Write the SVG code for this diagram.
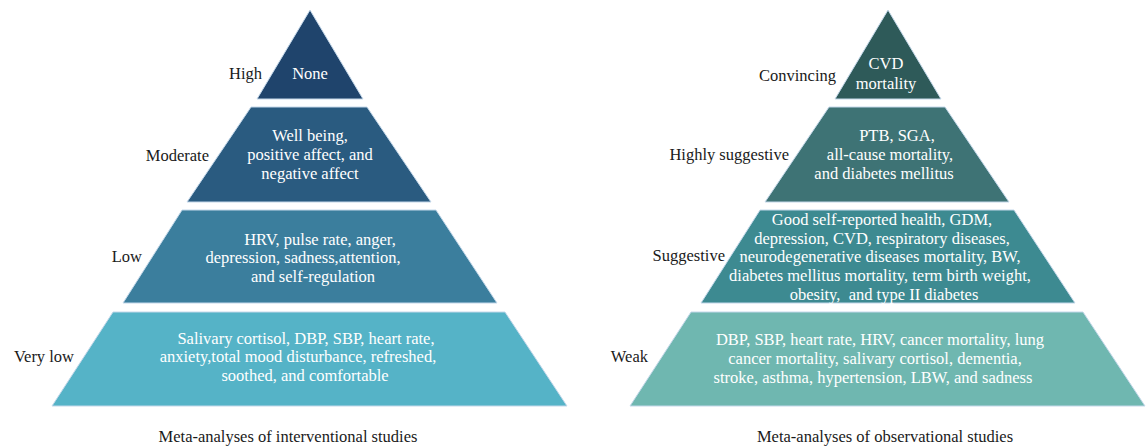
<svg xmlns="http://www.w3.org/2000/svg" width="1146" height="447" viewBox="0 0 1146 447">
  <style>
    .tier { stroke: #c4d8ea; stroke-width: 1; }
    text { font-family: "Liberation Serif", "Times New Roman", serif; font-size: 16.5px; }
    .in { fill: #ffffff; text-anchor: middle; }
    .lbl { fill: #1a1a1a; text-anchor: end; }
    .cap { fill: #1a1a1a; text-anchor: middle; }
  </style>
  <rect width="1146" height="447" fill="#ffffff"/>

  <!-- Interventional studies pyramid -->
  <g id="int-high">
    <polygon class="tier" points="310,10 363,99 257,99" fill="#1f446c"/>
    <text class="lbl" x="262" y="79">High</text>
    <text class="in" x="310" y="79">None</text>
  </g>
  <g id="int-moderate">
    <polygon class="tier" points="251,107 367,107 431,202 187,202" fill="#2a5b80"/>
    <text class="lbl" x="209" y="161">Moderate</text>
    <text class="in" x="310" y="141">Well being,</text>
    <text class="in" x="310" y="160">positive affect, and</text>
    <text class="in" x="310" y="179">negative affect</text>
  </g>
  <g id="int-low">
    <polygon class="tier" points="182,210 436,210 497,303 123,303" fill="#3b7e9d"/>
    <text class="lbl" x="142" y="262">Low</text>
    <text class="in" x="320" y="245">HRV, pulse rate, anger,</text>
    <text class="in" x="303" y="263">depression, sadness,attention,</text>
    <text class="in" x="313" y="282">and self-regulation</text>
  </g>
  <g id="int-verylow">
    <polygon class="tier" points="113,312 505,312 567,406 52,406" fill="#55b3c7"/>
    <text class="lbl" x="74" y="362">Very low</text>
    <text class="in" x="306" y="344">Salivary cortisol, DBP, SBP, heart rate,</text>
    <text class="in" x="298" y="362">anxiety,total mood disturbance, refreshed,</text>
    <text class="in" x="305" y="381">soothed, and comfortable</text>
  </g>
  <text id="int-caption" class="cap" x="288" y="442">Meta-analyses of interventional studies</text>

  <!-- Observational studies pyramid -->
  <g id="obs-convincing">
    <polygon class="tier" points="888,10 941,99 835,99" fill="#2e5a59"/>
    <text class="lbl" x="836" y="81">Convincing</text>
    <text class="in" x="886" y="69">CVD</text>
    <text class="in" x="886" y="89">mortality</text>
  </g>
  <g id="obs-highly">
    <polygon class="tier" points="829,107 945,107 1009,202 765,202" fill="#3e7375"/>
    <text class="lbl" x="789" y="160">Highly suggestive</text>
    <text class="in" x="897" y="141">PTB, SGA,</text>
    <text class="in" x="890" y="160">all-cause mortality,</text>
    <text class="in" x="884" y="179">and diabetes mellitus</text>
  </g>
  <g id="obs-suggestive">
    <polygon class="tier" points="760,210 1014,210 1075,303 701,303" fill="#3d8a91"/>
    <text class="lbl" x="725" y="261">Suggestive</text>
    <text class="in" x="882" y="225">Good self-reported health, GDM,</text>
    <text class="in" x="882" y="244">depression, CVD, respiratory diseases,</text>
    <text class="in" x="880" y="262">neurodegenerative diseases mortality, BW,</text>
    <text class="in" x="880" y="281">diabetes mellitus mortality, term birth weight,</text>
    <text class="in" x="884" y="300" xml:space="preserve">obesity,  and type II diabetes</text>
  </g>
  <g id="obs-weak">
    <polygon class="tier" points="691,312 1083,312 1145,406 630,406" fill="#6fb7b0"/>
    <text class="lbl" x="648" y="362">Weak</text>
    <text class="in" x="880" y="345">DBP, SBP, heart rate, HRV, cancer mortality, lung</text>
    <text class="in" x="875" y="364">cancer mortality, salivary cortisol, dementia,</text>
    <text class="in" x="873" y="383">stroke, asthma, hypertension, LBW, and sadness</text>
  </g>
  <text id="obs-caption" class="cap" x="885" y="442">Meta-analyses of observational studies</text>

  <!-- no connectors in this figure -->
  <g id="connectors"/>
</svg>
